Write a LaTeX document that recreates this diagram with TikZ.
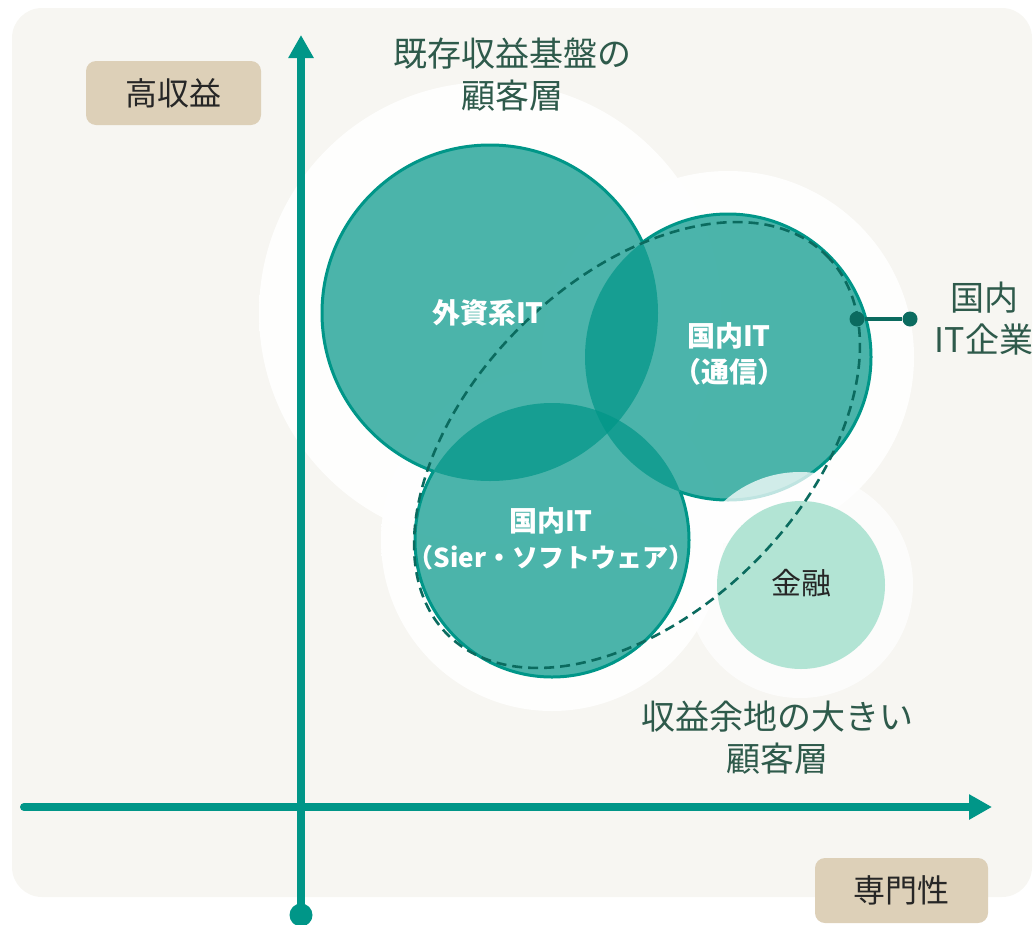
\documentclass[tikz,border=0pt]{standalone}
\usepackage{fontspec}
\setmainfont{Noto Sans CJK JP}
\usetikzlibrary{arrows.meta}
\definecolor{bgc}{HTML}{F7F6F2}
\definecolor{boxc}{HTML}{DDD0B8}
\definecolor{teal1}{HTML}{009688}
\definecolor{tealdk}{HTML}{0B6B5F}
\definecolor{txtg}{HTML}{2E5A4B}
\definecolor{haloedge}{HTML}{E6E0D4}
\definecolor{haloedgeb}{HTML}{D8E7E2}
\definecolor{kinyu}{HTML}{B2E4D4}
\pgfdeclareradialshading{halo}{\pgfpoint{0bp}{0bp}}{color(0bp)=(white); color(37bp)=(white); color(48.5bp)=(haloedge); color(50bp)=(bgc); color(72bp)=(bgc)}
\pgfdeclareradialshading{halob}{\pgfpoint{0bp}{0bp}}{color(0bp)=(white); color(35bp)=(white); color(48bp)=(haloedgeb); color(50bp)=(bgc); color(72bp)=(bgc)}
\tikzset{
  lbl/.style={text=txtg, font=\fontsize{34}{42}\selectfont, align=center, inner sep=0pt},
  wlbl/.style={text=white, font=\fontsize{28}{36}\selectfont\bfseries, align=center, inner sep=0pt},
  axisline/.style={draw=teal1, line width=8pt},
  boxlbl/.style={fill=boxc, rounded corners=10pt, text=black!85, font=\fontsize{32}{36}\selectfont, minimum width=175pt, minimum height=64pt, inner sep=0pt},
  cfill/.style={fill=teal1, fill opacity=0.7},
  cborder/.style={draw=teal1, line width=3pt},
  smalldot/.style={circle, fill=tealdk, minimum size=15pt, inner sep=0pt},
  halostyle/.style={shading=halo, opacity=0.92},
}
\begin{document}
\begin{tikzpicture}[x=1pt,y=-1pt]
\useasboundingbox (0,0) rectangle (1033,924);
\fill[bgc, rounded corners=30pt] (12,8) rectangle (1032,897);
% halos
\shade[halostyle] (490,313) circle (231);
\shade[halostyle] (728,357) circle (186);
\shade[halostyle] (552,540) circle (171);
% axes
\node[circle, fill=teal1, minimum size=23pt, inner sep=0pt] (o) at (301,915) {};
\coordinate (ytop) at (301,35);
\draw[axisline, -{Triangle[length=23pt,width=24pt]}] (o.center) -- (ytop);
\coordinate (xl) at (24,807);
\coordinate (xr) at (992,807);
\draw[axisline, line cap=round, -{Triangle[length=23pt,width=24pt]}] (xl) -- (xr);
% circle fills
\fill[cfill] (490,313) circle (168);
\fill[cfill] (728,357) circle (143);
\fill[cfill] (552,540) circle (137);
% borders, hidden inside other circles
\begin{scope}[even odd rule]
\clip (0,0) rectangle (1033,924) (728,357) circle (143);
\clip (0,0) rectangle (1033,924) (552,540) circle (137);
\draw[cborder] (490,313) circle (168);
\end{scope}
\begin{scope}[even odd rule]
\clip (0,0) rectangle (1033,924) (490,313) circle (168);
\clip (0,0) rectangle (1033,924) (552,540) circle (137);
\draw[cborder] (728,357) circle (143);
\end{scope}
\begin{scope}[even odd rule]
\clip (0,0) rectangle (1033,924) (490,313) circle (168);
\clip (0,0) rectangle (1033,924) (728,357) circle (143);
\draw[cborder] (552,540) circle (137);
\end{scope}
% finance
\shade[shading=halob, opacity=0.75] (800,585) circle (113);
\fill[kinyu] (801,585) circle (84);
% dashed ellipse
\draw[tealdk, line width=2.6pt, dash pattern=on 10pt off 6pt] (637,445) ellipse [x radius=268, y radius=166, rotate=45];
% connector
\node[smalldot] (d1) at (857,319) {};
\node[smalldot] (d2) at (910,319) {};
\draw[tealdk, line width=4pt] (d1) -- (d2);
% labels
\node[boxlbl] (hi) at (173.5,93) {高収益};
\node[boxlbl, minimum width=173pt, minimum height=65pt] (sp) at (901.5,890.5) {専門性};
\node[lbl] (top) at (512,75) {既存収益基盤の\\顧客層};
\node[lbl] (jp) at (984,319) {国内\\IT企業};
\node[lbl] (bot) at (777,738) {収益余地の大きい\\顧客層};
\node[wlbl] (gs) at (488,313) {外資系IT};
\node[wlbl] (ts) at (729,354) {国内IT\\（通信）};
\node[wlbl] (si) at (551,539) {国内IT\\{\fontsize{26}{36}\selectfont （Sier・ソフトウェア）}};
\node[text=black!85, font=\fontsize{30}{34}\selectfont, inner sep=0pt] (kn) at (801,583) {金融};
\end{tikzpicture}
\end{document}
